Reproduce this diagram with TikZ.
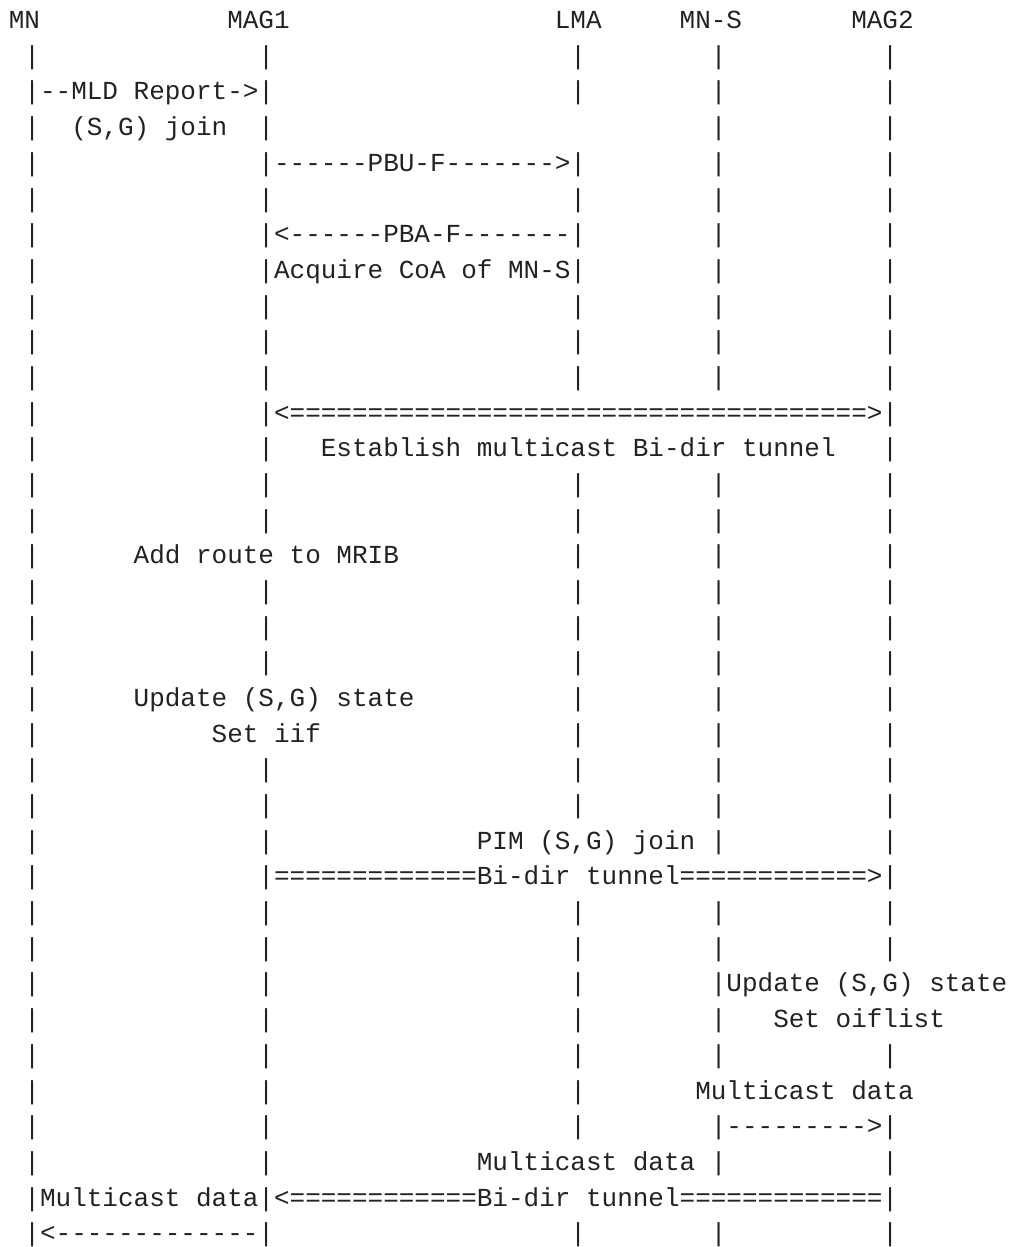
\documentclass[tikz,border=0pt]{standalone}
\usepackage{fontspec}
\setmonofont{Liberation Mono}
\definecolor{ink}{HTML}{222222}
\begin{document}
\begin{tikzpicture}[x=11.7pt,y=-26.76pt,
        every node/.style={inner sep=0pt,anchor=base west,text=ink,
            font=\ttfamily\fontsize{19.5}{24}\selectfont}]
    \useasboundingbox (-0.5513,-0.8016) rectangle (64.321,34.148);
    % entities
    \node (mn) at (0,0) {MN};
    \node (mag1) at (14,0) {MAG1};
    \node (lma) at (35,0) {LMA};
    \node (mns) at (43,0) {MN-S};
    \node (mag2) at (54,0) {MAG2};
    % lifelines, one bar per row
    \foreach \r in {1,...,34} \node (mnbar\r) at (1,\r) {|};
    \foreach \r in {1,...,14,16,17,18,21,22,...,34} \node (magabar\r) at (16,\r) {|};
    \foreach \r in {1,2,4,5,...,10,13,14,...,22,25,26,...,31,34} \node (lmabar\r) at (36,\r) {|};
    \foreach \r in {1,...,10,13,14,...,23,25,26,...,29,31,32,34} \node (mnsbar\r) at (45,\r) {|};
    \foreach \r in {1,...,26,29,31,32,33,34} \node (magbbar\r) at (56,\r) {|};
    % messages
    \node (mld) at (2,2) {--MLD Report->};
    \node (sgjoin) at (4,3) {(S,G) join};
    \node (pbu) at (17,4) {------PBU-F------->};
    \node (pba) at (17,6) {<------PBA-F-------};
    \node (coa) at (17,7) {Acquire CoA of MN-S};
    \node (tunnel) at (17,11) {<=====================================>};
    \node (est) at (20,12) {Establish multicast Bi-dir tunnel};
    \node (mrib) at (8,15) {Add route to MRIB};
    \node (upda) at (8,19) {Update (S,G) state};
    \node (iif) at (13,20) {Set iif};
    \node (pim) at (30,23) {PIM (S,G) join};
    \node (tunfwd) at (17,24) {=============Bi-dir tunnel============>};
    \node (updb) at (46,27) {Update (S,G) state};
    \node (oif) at (49,28) {Set oiflist};
    \node (dataa) at (44,30) {Multicast data};
    \node (dataarr) at (46,31) {--------->};
    \node (datab) at (30,32) {Multicast data};
    \node (datac) at (2,33) {Multicast data};
    \node (tunback) at (17,33) {<============Bi-dir tunnel=============};
    \node (datadn) at (2,34) {<-------------};
\end{tikzpicture}
\end{document}
